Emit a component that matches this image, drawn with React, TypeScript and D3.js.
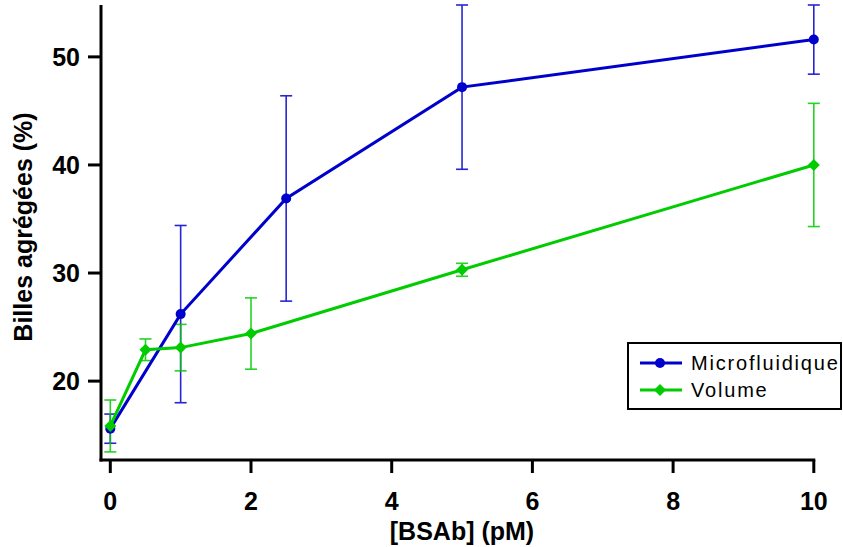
import React from "react";
import * as d3 from "d3";

const xTicks = [0, 2, 4, 6, 8, 10];
const yTicks = [20, 30, 40, 50];

const microX = [0, 1, 2.5, 5, 10];
const microY = [15.6, 26.2, 36.9, 47.2, 51.6];
const microErr = [1.35, 8.2, 9.5, 7.6, 3.2];

const volX = [0, 0.5, 1, 2, 5, 10];
const volY = [15.85, 22.9, 23.1, 24.4, 30.3, 40.0];
const volErr = [2.4, 1.0, 2.15, 3.3, 0.6, 5.7];

const W = 843;
const H = 547;
const FONT = "'Liberation Sans', Arial, Helvetica, sans-serif";
const BLUE = "#0000cc";
const GREEN = "#00cc00";

export default function App() {
  const x = d3.scaleLinear().domain([0, 10]).range([110.3, 813.8]);
  const y = d3.scaleLinear().domain([12.7, 54.8]).range([460, 5]);
  const axisX0 = 101;
  const axisY0 = 460;

  const line = d3
    .line<[number, number]>()
    .x((d) => x(d[0]))
    .y((d) => y(d[1]));

  const micro = microX.map((v, i) => [v, microY[i]] as [number, number]);
  const vol = volX.map((v, i) => [v, volY[i]] as [number, number]);

  const errBars = (xs: number[], ys: number[], es: number[], color: string) =>
    xs.map((xv, i) => {
      const cx = x(xv);
      const top = y(ys[i] + es[i]);
      const bot = y(ys[i] - es[i]);
      return (
        <g key={i} stroke={color} strokeWidth={1.6} opacity={0.85}>
          <line x1={cx} x2={cx} y1={top} y2={bot} />
          <line x1={cx - 6} x2={cx + 6} y1={top} y2={top} />
          <line x1={cx - 6} x2={cx + 6} y1={bot} y2={bot} />
        </g>
      );
    });

  const diamond = (cx: number, cy: number, r: number) =>
    `M${cx},${cy - r}L${cx + r},${cy}L${cx},${cy + r}L${cx - r},${cy}Z`;

  return (
    <svg
      width={W}
      height={H}
      style={{ position: "absolute", left: 0, top: 0, background: "#fff" }}
    >
      {/* error bars */}
      {errBars(microX, microY, microErr, BLUE)}
      {errBars(volX, volY, volErr, GREEN)}

      {/* lines */}
      <path d={line(micro) || ""} fill="none" stroke={BLUE} strokeWidth={3} />
      <path d={line(vol) || ""} fill="none" stroke={GREEN} strokeWidth={3} />

      {/* markers */}
      {micro.map((d, i) => (
        <circle key={"m" + i} cx={x(d[0])} cy={y(d[1])} r={5} fill={BLUE} />
      ))}
      {vol.map((d, i) => (
        <path key={"v" + i} d={diamond(x(d[0]), y(d[1]), 6)} fill={GREEN} />
      ))}

      {/* axes */}
      <g stroke="#000" strokeWidth={3}>
        <line x1={axisX0} x2={axisX0} y1={5} y2={axisY0 + 1.5} />
        <line x1={axisX0 - 1.5} x2={x(10) + 1.5} y1={axisY0} y2={axisY0} />
        {yTicks.map((t) => (
          <line key={t} x1={88} x2={axisX0} y1={y(t)} y2={y(t)} />
        ))}
        {xTicks.map((t) => (
          <line key={t} x1={x(t)} x2={x(t)} y1={axisY0} y2={axisY0 + 13} />
        ))}
      </g>

      {/* tick labels */}
      <g fontFamily={FONT} fontWeight="bold" fontSize={25} fill="#000">
        {yTicks.map((t) => (
          <text key={t} x={80} y={y(t) + 9} textAnchor="end">
            {t}
          </text>
        ))}
        {xTicks.map((t) => (
          <text key={t} x={x(t)} y={510} textAnchor="middle">
            {t}
          </text>
        ))}
      </g>

      {/* axis titles */}
      <text
        x={462}
        y={540}
        textAnchor="middle"
        fontFamily={FONT}
        fontWeight="bold"
        fontSize={25}
      >
        [BSAb] (pM)
      </text>
      <text
        transform="translate(32,227) rotate(-90)"
        textAnchor="middle"
        fontFamily={FONT}
        fontWeight="bold"
        fontSize={25}
      >
        Billes agrégées (%)
      </text>

      {/* legend */}
      <rect x={628} y={343} width={213} height={66} fill="#fff" stroke="#000" strokeWidth={2} />
      <line x1={640} x2={682} y1={363} y2={363} stroke={BLUE} strokeWidth={3} />
      <circle cx={660} cy={363} r={5} fill={BLUE} />
      <line x1={640} x2={682} y1={390} y2={390} stroke={GREEN} strokeWidth={3} />
      <path d={diamond(660, 390, 6)} fill={GREEN} />
      <g fontFamily={FONT} fontSize={20} letterSpacing={1.8} fill="#000">
        <text x={691} y={369.5}>Microfluidique</text>
        <text x={691} y={396.5}>Volume</text>
      </g>
    </svg>
  );
}
